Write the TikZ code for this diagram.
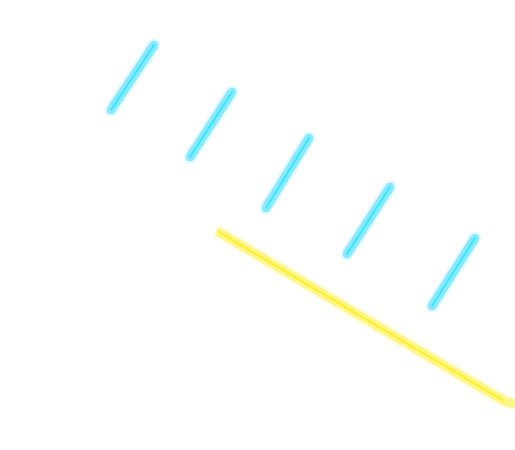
\documentclass[tikz,border=0pt]{standalone}
\usepackage{tikz}
\usepackage{xcolor}

\definecolor{glowcyan}{RGB}{110,228,255}
\definecolor{corecyan}{RGB}{60,232,255}
\definecolor{glowyellow}{RGB}{255,244,110}
\definecolor{coreyellow}{RGB}{255,240,40}

\begin{document}
\begin{tikzpicture}[
  x=0.02cm, y=-0.02cm,
  halo/.style={draw=#1, line width=13*0.02cm, opacity=0.2, line cap=round},
  glowline/.style={draw=#1, line width=9*0.02cm, opacity=0.75, line cap=round},
  coreline/.style={draw=#1, line width=2*0.02cm, line cap=round}
]
  \useasboundingbox (0,0) rectangle (515,450);

  % cyan strokes
  \foreach \i/\xa/\ya/\xb/\yb in {1/111/110/154/45, 2/190/157/232/92, 3/266/208/309/138,
                                  4/347/254/390/187, 5/432/306/475/238} {
    \coordinate (s\i a) at (\xa,\ya);
    \coordinate (s\i b) at (\xb,\yb);
    \draw[halo=glowcyan] (s\i a) -- (s\i b);
    \draw[glowline=glowcyan] (s\i a) -- (s\i b);
    \draw[coreline=corecyan] (s\i a) -- (s\i b);
  }

  % yellow line
  \coordinate (ya) at (217,231);
  \coordinate (yb) at (504,401);
  \coordinate (yc) at (515,404);
  \draw[halo=glowyellow, line cap=butt] (ya) -- (yb) -- (yc);
  \draw[glowline=glowyellow, line cap=butt] (ya) -- (yb) -- (yc);
  \draw[coreline=coreyellow, line cap=butt] (ya) -- (yb);
\end{tikzpicture}
\end{document}
